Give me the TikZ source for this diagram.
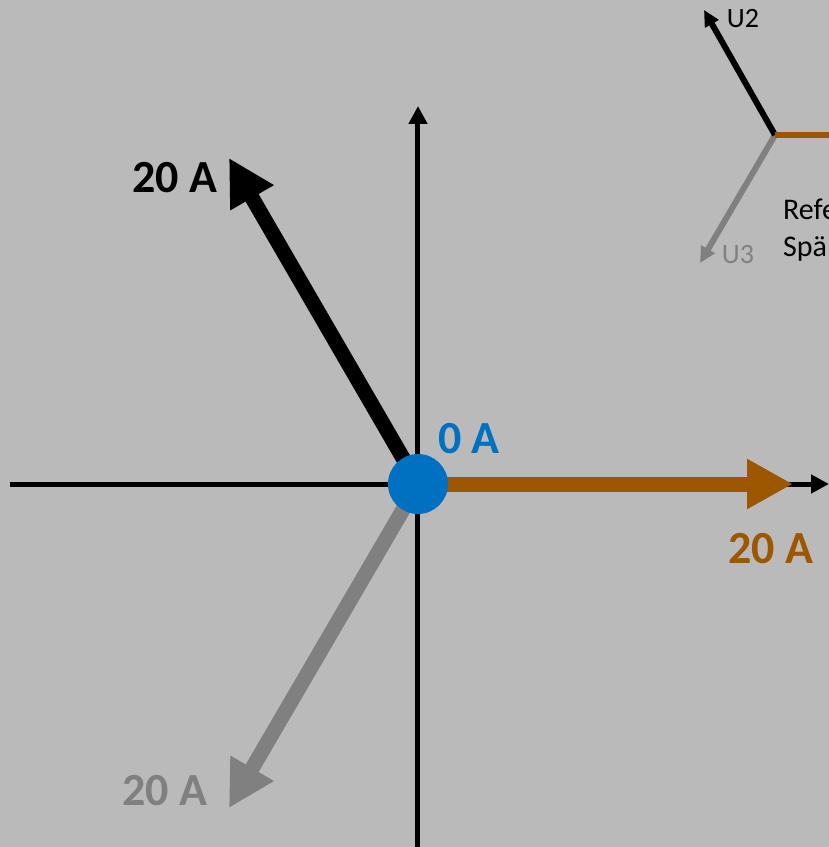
\documentclass[tikz,border=0pt]{standalone}
\usepackage{fontspec}
\setmainfont{Carlito}
\usetikzlibrary{arrows.meta}
\definecolor{bgGray}{RGB}{186,186,186}
\definecolor{phaseBrown}{RGB}{156,87,0}
\definecolor{phaseGray}{RGB}{128,128,128}
\definecolor{nullBlue}{RGB}{0,112,192}
\tikzset{
	axisline/.style={line width=5pt,-{Triangle[length=18pt,width=18pt]}},
	phasor/.style={line width=15pt,-{Triangle[length=46pt,width=47pt]}},
	refphasor/.style={line width=6pt,-{Triangle[length=16pt,width=15pt]}},
	amp/.style={font=\fontsize{46}{55}\selectfont\bfseries,anchor=base,inner sep=0pt},
	reflabel/.style={font=\fontsize{28}{34}\selectfont,anchor=base,inner sep=0pt},
	reftext/.style={font=\fontsize{30}{36}\selectfont,anchor=base west,inner sep=0pt}
}
\begin{document}
\begin{tikzpicture}[x=1pt,y=1pt]
		%Background and size of the slide cut
		\useasboundingbox (-418,-363) rectangle (411,484);
		\fill[bgGray] (-418,-363) rectangle (411,484);
		\clip (-418,-363) rectangle (411,484);
		%Axes
		\coordinate (O) at (0,0);
		\coordinate (xl) at (-408,0);
		\coordinate (xr) at (411,0);
		\coordinate (yb) at (0,-370);
		\coordinate (yt) at (0,378);
		\draw[axisline] (xl)--(xr);
		\draw[axisline] (yb)--(yt);
		%Currents
		\coordinate (i1) at (375,0);
		\coordinate (i2) at (-189,326);
		\coordinate (i3) at (-189,-324);
		\draw[phasor,phaseGray] (O)--(i3);
		\draw[phasor,black] (O)--(i2);
		\draw[phasor,phaseBrown] (O)--(i1);
		\node[circle,fill=nullBlue,minimum size=60pt,inner sep=0pt] (null) at (O) {};
		\node[amp,black] (l2) at (-243,291) {20 A};
		\node[amp,phaseBrown] (l1) at (353,-79) {20 A};
		\node[amp,phaseGray] (l3) at (-253,-321) {20 A};
		\node[amp,nullBlue] (l0) at (51,31) {0 A};
		%Reference star top right
		\coordinate (R) at (357,349);
		\coordinate (R1) at (420,349);
		\coordinate (R2) at (286,474);
		\coordinate (R3) at (282,221);
		\draw[refphasor,phaseGray] (R)--(R3);
		\draw[refphasor,black] (R)--(R2);
		\draw[line width=6pt,phaseBrown] (R)--(R1);
		\node[reflabel,black] (u2) at (325,456) {U2};
		\node[reflabel,phaseGray] (u3) at (320,220) {U3};
		\node[reftext] (ref1) at (365,265) {Refe};
		\node[reftext] (ref2) at (365,227) {Spä};
\end{tikzpicture}
\end{document}
